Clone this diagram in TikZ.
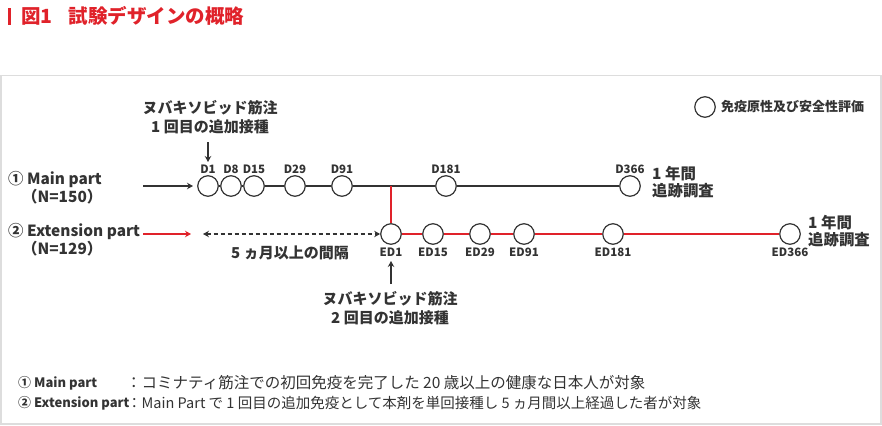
\documentclass[tikz,border=0pt]{standalone}
\usepackage{fontspec}
\setmainfont{Noto Sans CJK JP}
\usetikzlibrary{arrows.meta}
\definecolor{tred}{HTML}{E0222A}
\definecolor{tdark}{HTML}{333333}
\definecolor{tgray}{HTML}{DDDDDD}
\begin{document}
\begin{tikzpicture}[x=1pt,y=-1pt,
  visit/.style={circle,draw=tdark,line width=1.2pt,fill=white,minimum size=20.5pt,inner sep=0pt},
  dlab/.style={font=\fontsize{11.5}{12}\selectfont\bfseries,text=tdark,inner sep=0pt},
  lab/.style={font=\fontsize{15.4}{17}\selectfont\bfseries,text=tdark,inner sep=0pt,align=left},
  clab/.style={font=\fontsize{15}{19}\selectfont\bfseries,text=tdark,inner sep=0pt,align=center},
  mline/.style={line width=2.3pt,draw=tdark},
  rline/.style={line width=2.3pt,draw=tred},
  tip/.style={-{Stealth[length=6pt,width=6.5pt]}}
]
\useasboundingbox (0,0) rectangle (882,425);
% title
\fill[tred] (8,8) rectangle (11,25);
\node[anchor=west,inner sep=0pt,text=tred,font=\fontsize{19.5}{22}\selectfont\bfseries] (title) at (21,16) {図1\hspace{16pt}試験デザインの概略};
% frame
\draw[tgray,line width=1.5pt] (1,75.5) -- (881,75.5) -- (881,424) -- (1,424) -- cycle;

% main part circles
\foreach \n/\x in {D1/208,D8/231,D15/254,D29/295,D91/342,D181/446,D366/630}{
  \node[visit] (\n) at (\x,186) {};
  \node[dlab,anchor=south] (\n l) at (\x,174) {\n};
}
\draw[mline] (D1) -- (D8);
\draw[mline] (D8) -- (D15);
\draw[mline] (D15) -- (D29);
\draw[mline] (D29) -- (D91);
\draw[mline] (D91) -- (D181);
\draw[mline] (D181) -- (D366);

% extension circles
\foreach \n/\x in {ED1/391,ED15/433,ED29/480,ED91/524,ED181/613,ED366/790}{
  \node[visit] (\n) at (\x,234) {};
  \node[dlab,anchor=north] (\n l) at (\x,248) {\n};
}
\draw[rline] (ED1) -- (ED15);
\draw[rline] (ED15) -- (ED29);
\draw[rline] (ED29) -- (ED91);
\draw[rline] (ED91) -- (ED181);
\draw[rline] (ED181) -- (ED366);
\coordinate (J) at (391,186);
\draw[rline] (J) -- (ED1);

% left labels
\node[lab,anchor=west] (mp) at (8,180) {① Main part};
\node[lab,anchor=west] (mpn) at (22,197) {（N=150）};
\node[lab,anchor=west] (ep) at (8,232) {② Extension part};
\node[lab,anchor=west] (epn) at (22,249) {（N=129）};

% arrows
\coordinate (ma) at (143,186);
\coordinate (mb) at (193,186);
\draw[mline,line width=1.8pt,tip] (ma) -- (mb);
\coordinate (ra) at (143,234);
\coordinate (rb) at (191,234);
\draw[rline,line width=1.8pt,tip] (ra) -- (rb);
\coordinate (da) at (203,234);
\draw[tdark,line width=1.5pt,dash pattern=on 4pt off 3pt,{Stealth[length=6pt,width=6.5pt]}-{Stealth[length=6pt,width=6.5pt]}] (da) -- (ED1.west);
\node[clab] (gap) at (290,253) {5 ヵ月以上の間隔};

% dose annotations
\node[clab] (dose1) at (210,117) {ヌバキソビッド筋注\\1 回目の追加接種};
\coordinate (d1a) at (208,142);
\coordinate (d1b) at (208,162);
\draw[tdark,line width=1.5pt,tip] (d1a) -- (d1b);
\node[clab] (dose2) at (390,308) {ヌバキソビッド筋注\\2 回目の追加接種};
\coordinate (d2a) at (391,284);
\coordinate (d2b) at (391,261);
\draw[tdark,line width=1.5pt,tip] (d2a) -- (d2b);

% follow-up
\node[lab,anchor=west] (fu1) at (652,182) {1 年間\\追跡調査};
\node[lab,anchor=west] (fu2) at (808,231) {1 年間\\追跡調査};

% legend
\node[visit] (leg) at (705,107) {};
\node[anchor=west,inner sep=0pt,text=tdark,font=\fontsize{13}{14}\selectfont\bfseries] (legt) at (721,107) {免疫原性及び安全性評価};

% footer
\node[anchor=west,inner sep=0pt,text=tdark,font=\fontsize{13}{14}\selectfont\bfseries] (f1a) at (18,383) {① Main part};
\node[anchor=west,inner sep=0pt,text=tdark,font=\fontsize{15.5}{16}\selectfont] (f1b) at (126,383) {：コミナティ筋注での初回免疫を完了した 20 歳以上の健康な日本人が対象};
\node[anchor=west,inner sep=0pt,text=tdark,font=\fontsize{13}{14}\selectfont\bfseries] (f2a) at (18,403) {② Extension part};
\node[anchor=west,inner sep=0pt,text=tdark,font=\fontsize{14.5}{16}\selectfont] (f2b) at (127,403) {：Main Part で 1 回目の追加免疫として本剤を単回接種し 5 ヵ月間以上経過した者が対象};
\end{tikzpicture}
\end{document}
